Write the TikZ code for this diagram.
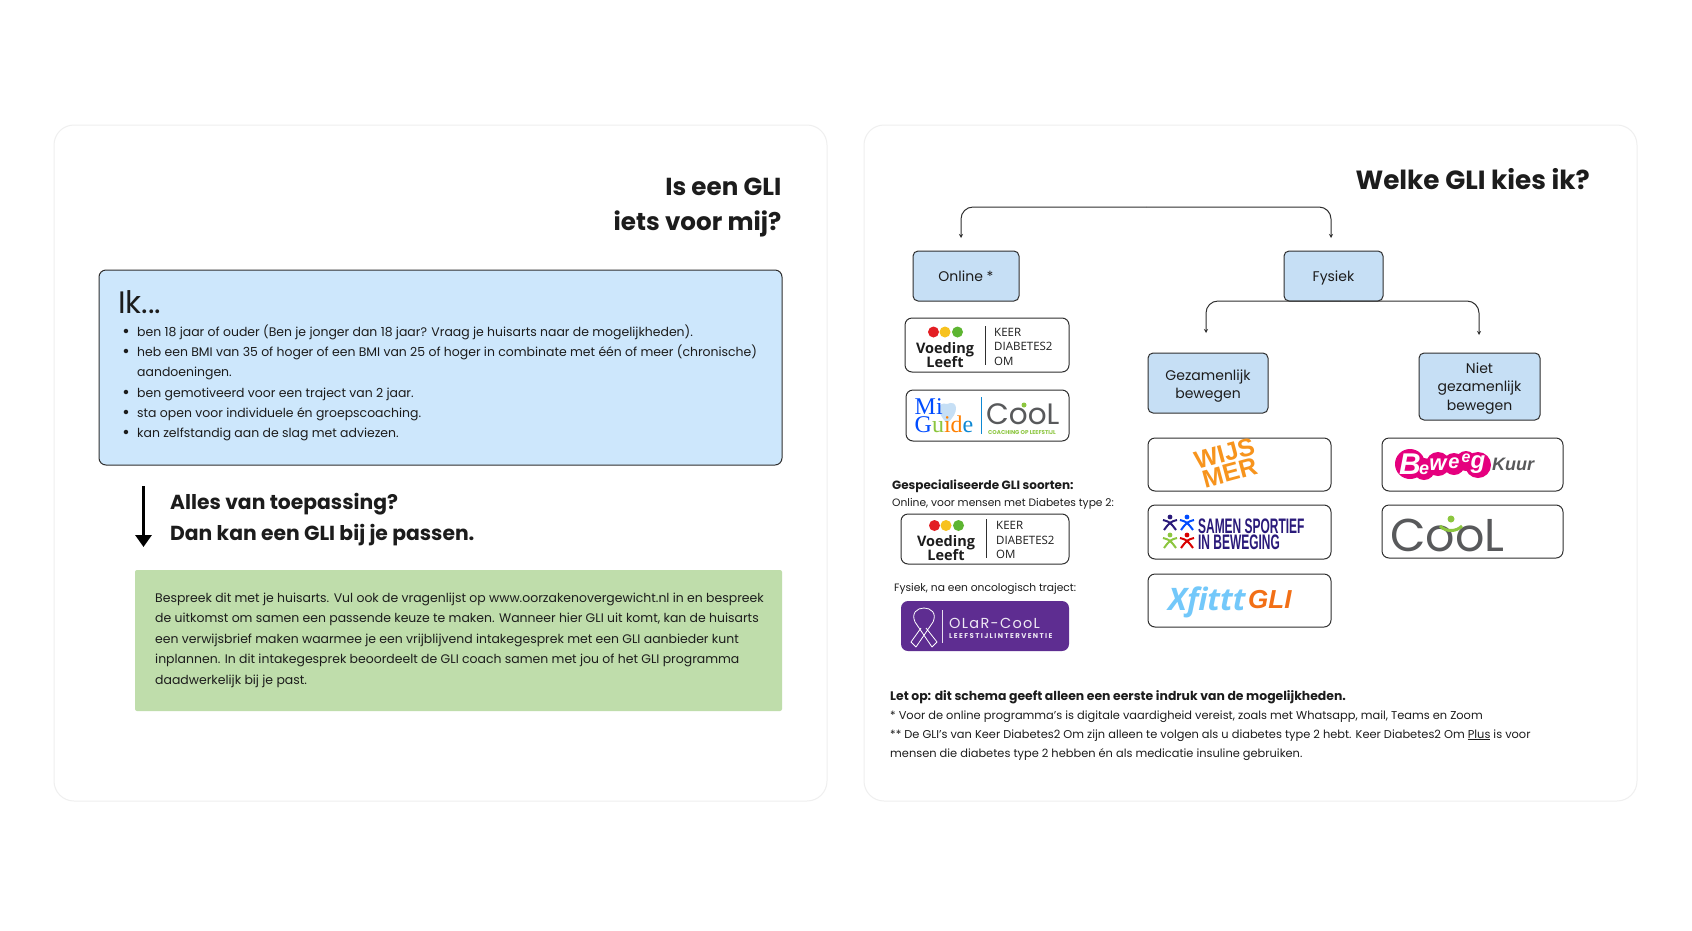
\documentclass[tikz,border=0pt]{standalone}
\usepackage{fontspec}
\setmainfont{Poppins}
\newfontfamily\logofont{Open Sans}
\newfontfamily\serifont{Liberation Serif}
\newfontfamily\narrowfont{Liberation Sans}
\usetikzlibrary{arrows.meta, positioning}
\newcommand\fs[1]{\fontsize{#1}{#1}\selectfont}
\newcommand\bul{\llap{\raisebox{-1.2pt}{\fs{18}\textbullet}\hspace{7.5pt}}}
\definecolor{panelline}{HTML}{EFEFEF}
\definecolor{ink}{HTML}{1C1C1C}
\definecolor{boxblue}{HTML}{CDE7FC}
\definecolor{treeblue}{HTML}{C6DFF5}
\definecolor{boxgreen}{HTML}{BFDDAB}
\definecolor{frame}{HTML}{2F2F2F}
\definecolor{olar}{HTML}{5E2D91}
\definecolor{samen}{HTML}{2A1A7A}
\definecolor{wijs}{HTML}{F7941D}
\definecolor{xblue}{HTML}{73C8FA}
\definecolor{xorange}{HTML}{F26F16}
\definecolor{pinkb}{HTML}{E5007E}
\definecolor{coolgrey}{HTML}{58595B}
\definecolor{coolgreen}{HTML}{8CC63F}
\definecolor{vlred}{HTML}{E31E24}
\definecolor{vlyellow}{HTML}{F7C21E}
\definecolor{vlgreen}{HTML}{5DB531}
\tikzset{
  panel/.style={draw=panelline, line width=1pt, fill=white, rounded corners=20pt},
  treebox/.style={draw=frame, line width=1pt, fill=treeblue, rounded corners=5pt, align=center, text=ink, font=\fs{14}, inner sep=0pt},
  oneline/.style={text height=12pt, text depth=1pt},
  logobox/.style={draw=frame, line width=1pt, fill=white, rounded corners=7pt},
  bodytext/.style={anchor=base west, inner sep=0pt, text=ink, font=\fs{12.45}},
  smalltext/.style={anchor=base west, inner sep=0pt, text=ink, font=\fs{11.4}},
  boldtext/.style={anchor=base west, inner sep=0pt, text=ink, font=\fs{12}\bfseries},
  headtext/.style={anchor=base east, inner sep=0pt, text=ink, font=\fs{24.6}\bfseries},
  subhead/.style={anchor=base west, inner sep=0pt, text=ink, font=\fs{20.3}\bfseries},
  keer/.style={anchor=base west, inner sep=0pt, text=ink, font=\logofont\fs{11.5}},
  voeding/.style={inner sep=0pt, text=ink, font=\logofont\fs{14.5}\bfseries},
  fork/.style={draw=frame, line width=1pt, rounded corners=12pt, -{Stealth[length=4pt,width=4pt]}},
}
\begin{document}
\begin{tikzpicture}[x=1pt, y=-1pt]
\useasboundingbox (0,0) rectangle (1692,930);
\fill[white] (0,0) rectangle (1692,930);
\draw[panel] (54,125) rectangle (827,801);
\draw[panel] (864,125) rectangle (1637,801);

% left panel
\node[headtext] (title1) at (781.5,195) {Is een GLI};
\node[headtext] (title2) at (781.5,230) {iets voor mij?};
\draw[draw=frame, line width=1pt, fill=boxblue, rounded corners=7pt] (99,270) rectangle (782,465);
\node[anchor=base west, inner sep=0pt, text=ink, font=\fs{31}] (ik) at (118,313) {Ik...};
\node[bodytext] (item1) at (137,336) {\bul ben 18 jaar of ouder (Ben je jonger dan 18 jaar? Vraag je huisarts naar de mogelijkheden).};
\node[bodytext] (item2) at (137,356) {\bul heb een BMI van 35 of hoger of een BMI van 25 of hoger in combinate met één of meer (chronische)};
\node[bodytext] (item2b) at (137,376) {aandoeningen.};
\node[bodytext] (item3) at (137,397) {\bul ben gemotiveerd voor een traject van 2 jaar.};
\node[bodytext] (item4) at (137,417) {\bul sta open voor individuele én groepscoaching.};
\node[bodytext] (item5) at (137,437) {\bul kan zelfstandig aan de slag met adviezen.};
\coordinate (arrowtop) at (143.5,486);
\coordinate (arrowend) at (143.5,547);
\draw[black, line width=3.5pt, -{Triangle[length=12pt,width=16pt]}] (arrowtop) -- (arrowend);
\node[subhead] (alles) at (170,509) {Alles van toepassing?};
\node[subhead] (dan) at (170,540) {Dan kan een GLI bij je passen.};
\fill[boxgreen, rounded corners=2pt] (135,570) rectangle (782,711);
\node[bodytext] (advies1) at (155,602) {Bespreek dit met je huisarts. Vul ook de vragenlijst op www.oorzakenovergewicht.nl in en bespreek};
\node[bodytext] (advies2) at (155,622) {de uitkomst om samen een passende keuze te maken. Wanneer hier GLI uit komt, kan de huisarts};
\node[bodytext] (advies3) at (155,643) {een verwijsbrief maken waarmee je een vrijblijvend intakegesprek met een GLI aanbieder kunt};
\node[bodytext] (advies4) at (155,663) {inplannen. In dit intakegesprek beoordeelt de GLI coach samen met jou of het GLI programma};
\node[bodytext] (advies5) at (155,684) {daadwerkelijk bij je past.};

% right panel
\node[headtext, font=\fs{26.3}\bfseries] (welke) at (1590,189) {Welke GLI kies ik?};
\node[treebox, oneline, minimum width=106pt, minimum height=50pt] (online) at (966,276) {Online *};
\node[treebox, oneline, minimum width=99pt, minimum height=50pt] (fysiek) at (1333.5,276) {Fysiek};
\node[treebox, minimum width=120pt, minimum height=60pt] (samenb) at (1208,383) {\rule{0pt}{17pt}Gezamenlijk\\[4.3pt]bewegen};
\node[treebox, minimum width=121pt, minimum height=67pt] (niet) at (1479.5,386.5) {\rule{0pt}{15pt}Niet\\[4.3pt]gezamenlijk\\[4.3pt]bewegen};
\coordinate (forktop) at (1146,207);
\coordinate (onlinein) at (961,238);
\coordinate (fysiekin) at (1331,238);
\draw[fork] (forktop) -| (onlinein);
\draw[fork] (forktop) -| (fysiekin);
\coordinate (forktwo) at (1340,301);
\coordinate (samenin) at (1206,333);
\coordinate (nietin) at (1479,335);
\draw[fork] (forktwo) -| (samenin);
\draw[fork] (forktwo) -| (nietin);

% voeding leeft, first one
\node[logobox, minimum width=164pt, minimum height=54pt] (vlone) at (987,345) {};
\fill[vlred] (933.5,332) circle (5.5pt);
\fill[vlyellow] (945,332) circle (5.5pt);
\fill[vlgreen] (957.5,332) circle (5.5pt);
\node[voeding, align=center] (vlone1) at (945,355) {Voeding\\[-1.5pt]Leeft};
\draw[frame] (985,326) -- (985,365);
\node[keer] (vlone3) at (994,336) {KEER};
\node[keer] (vlone4) at (994,350) {DIABETES2};
\node[keer] (vlone5) at (994,365) {OM};

% mi guide
\node[logobox, minimum width=163pt, minimum height=51pt] (migbox) at (987.5,415.5) {};
\fill[treeblue] (947,423) .. controls (936,413) and (937,401) .. (947,404) .. controls (958,399) and (960,413) .. (947,423);
\node[inner sep=0pt, align=left, font=\serifont\fs{24}] (migguide) at (944,416) {\textcolor{blue!70!cyan}{Mi}\\[-6pt]\textcolor{blue!70!cyan}{G}\textcolor{coolgreen}{u}\textcolor{orange}{i}\textcolor{orange}{d}\textcolor{cyan!70!blue}{e}};
\draw[cyan!70!blue] (981,397) -- (981,434);
\node[anchor=base west, inner sep=0pt, text=coolgrey, font=\fs{29.5}] (migcool) at (986,424.5) {CooL};
\fill[coolgreen] (1024,405) circle (2.5pt);
\node[anchor=base west, inner sep=0pt, text=coolgreen, font=\bfseries\fs{5.6}] (migsub) at (988,434) {COACHING OP LEEFSTIJL};

% specialised
\node[boldtext] (gespec) at (892,489) {Gespecialiseerde GLI soorten:};
\node[smalltext, font=\fs{10.7}] (diabetes) at (892,506) {Online, voor mensen met Diabetes type 2:};
\node[logobox, minimum width=168pt, minimum height=50pt] (vltwo) at (985,539) {};
\fill[vlred] (934.5,525.5) circle (5.5pt);
\fill[vlyellow] (946,525.5) circle (5.5pt);
\fill[vlgreen] (958.5,525.5) circle (5.5pt);
\node[voeding, align=center] (vltwo1) at (946,548) {Voeding\\[-1.5pt]Leeft};
\draw[frame] (986,519) -- (986,558);
\node[keer] (vltwo3) at (996,529) {KEER};
\node[keer] (vltwo4) at (996,544) {DIABETES2};
\node[keer] (vltwo5) at (996,558) {OM};
\node[smalltext, font=\fs{10.7}] (oncolog) at (894,591) {Fysiek, na een oncologisch traject:};
\node[logobox, draw=none, fill=olar, minimum width=168pt, minimum height=50pt] (olarbox) at (985,626) {};
\draw[white, line width=.8pt, line join=round] (916,647) -- (933,622) .. controls (937,613) and (931,608) .. (924,608) .. controls (917,608) and (911,613) .. (915,622) -- (932,647) -- (937,642) -- (926,628);
\draw[white, line width=.8pt] (916,647) -- (911,642) -- (921,628);
\draw[white!85!olar] (942,610) -- (942,643);
\node[anchor=base west, inner sep=0pt, text=white!90!olar, font=\fs{14.5}] (olar1) at (949,628) {\addfontfeature{LetterSpace=9}OLaR-CooL};
\node[anchor=base west, inner sep=0pt, text=white!90!olar, font=\bfseries\fs{7}] (olar2) at (949,638.5) {\addfontfeature{LetterSpace=20}LEEFSTIJLINTERVENTIE};

% wijs mer
\node[logobox, minimum width=183pt, minimum height=53pt] (wijsbox) at (1239.5,464.5) {};
\node[rotate=15, inner sep=0pt, align=center, text=wijs, font=\narrowfont\bfseries\fs{25}] (wijs1) at (1227,463) {WIJS\\[-5pt]MER};

% samen sportief
\node[logobox, minimum width=183pt, minimum height=54pt] (samenbox) at (1239.5,532) {};
\foreach \px/\py/\pc in {1170/522/samen, 1187/522/blue!70!cyan, 1170/540/coolgreen, 1187/540/red!85!black} {
  \fill[\pc] (\px,\py-5) circle (2.4pt);
  \draw[\pc, line width=2pt] (\px-7,\py-2) .. controls (\px,\py) .. (\px+6,\py+8);
  \draw[\pc, line width=2pt] (\px+7,\py-2) .. controls (\px,\py) .. (\px-6,\py+8);
}
\node[anchor=base west, inner sep=0pt, text=samen, xscale=.57, transform shape, font=\narrowfont\bfseries\fs{21}] (samen1) at (1198,533) {SAMEN SPORTIEF};
\node[anchor=base west, inner sep=0pt, text=samen, xscale=.57, transform shape, font=\narrowfont\bfseries\fs{21}] (samen2) at (1198,549.5) {IN BEWEGING};

% xfittt
\node[logobox, minimum width=183pt, minimum height=53pt] (xbox) at (1239.5,600.5) {};
\node[anchor=base west, inner sep=0pt, text=xblue, font=\logofont\itshape\bfseries\fs{31}] (xfit) at (1168,610) {Xfittt};
\node[anchor=base west, inner sep=0pt, text=xorange, font=\narrowfont\itshape\bfseries\fs{26}] (xgli) at (1248,608) {GLI};

% beweeg kuur
\node[logobox, minimum width=181pt, minimum height=53pt] (beweegbox) at (1472.5,464.5) {};
\foreach \px/\py/\pr in {1410/464/15, 1424/469/11, 1438/464/12, 1454/464/11, 1466/461/10, 1478/465/13} {
  \fill[pinkb] (\px,\py) circle (\pr pt);
}
\foreach \px/\py/\ps/\pl in {1410/464/30/B, 1424/470/18/e, 1438/465/22/w, 1454/463/20/e, 1466/458/16/e, 1478/465/24/g} {
  \node[inner sep=0pt, text=white, font=\narrowfont\itshape\bfseries\fs{\ps}] (beweeg\px) at (\px,\py) {\pl};
}
\node[anchor=base west, inner sep=0pt, text=coolgrey, font=\narrowfont\itshape\bfseries\fs{18}] (kuur) at (1492,470) {Kuur};

% cool
\node[logobox, minimum width=181pt, minimum height=53pt] (coolbox) at (1472.5,531.5) {};
\node[anchor=base west, inner sep=0pt, text=coolgrey, font=\fs{46}] (coolname) at (1390,551) {CooL};
\fill[coolgreen] (1451,519) circle (3.5pt);
\draw[coolgreen, line width=3pt] (1440,526) .. controls (1446,532) and (1456,532) .. (1462,526);

% footer
\node[boldtext, font=\fs{12.4}\bfseries] (letop) at (890,700) {Let op: dit schema geeft alleen een eerste indruk van de mogelijkheden.};
\node[smalltext] (note1) at (890,719) {* Voor de online programma's is digitale vaardigheid vereist, zoals met Whatsapp, mail, Teams en Zoom};
\node[smalltext] (note2) at (890,738) {** De GLI's van Keer Diabetes2 Om zijn alleen te volgen als u diabetes type 2 hebt. Keer Diabetes2 Om \underline{Plus} is voor};
\node[smalltext] (note3) at (890,757) {mensen die diabetes type 2 hebben én als medicatie insuline gebruiken.};
\end{tikzpicture}
\end{document}
